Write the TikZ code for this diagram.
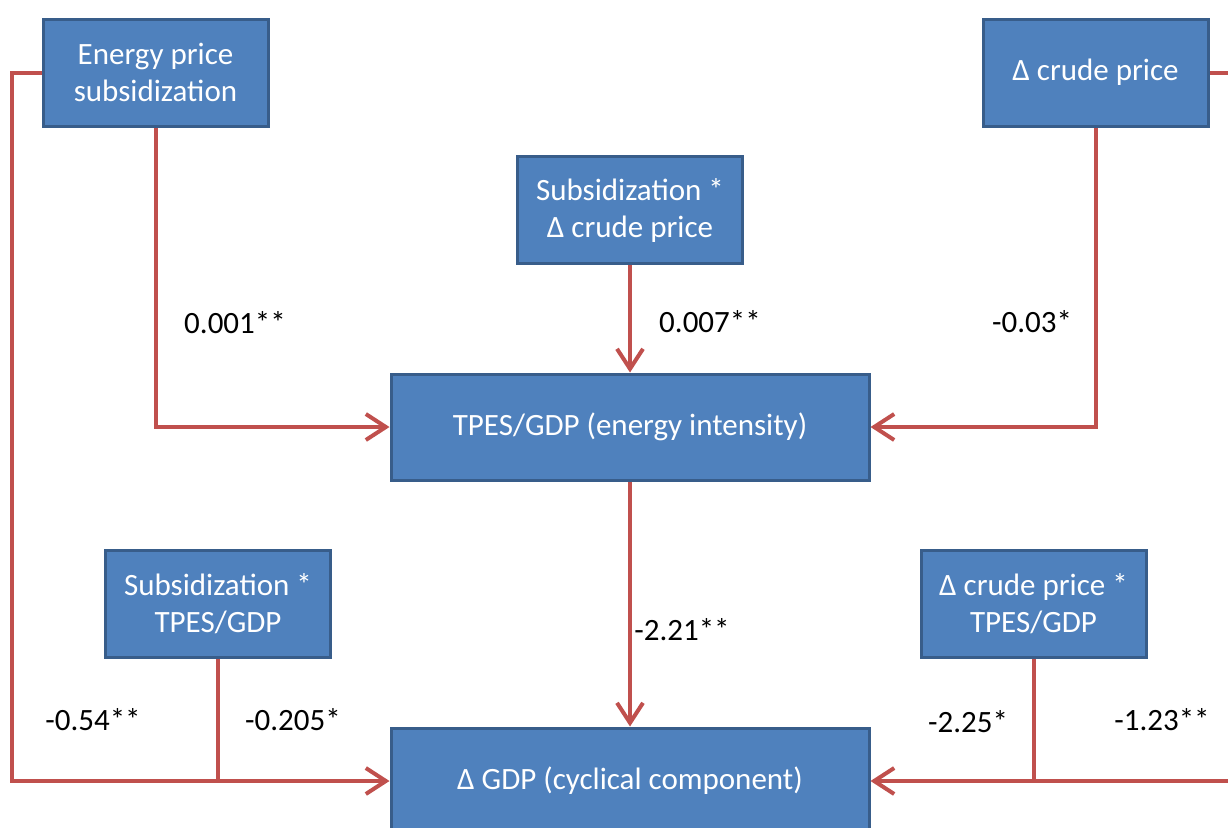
\documentclass[tikz,border=0pt]{standalone}
\usepackage{fontspec}
\setmainfont{Carlito}
\usetikzlibrary{arrows.meta}
\definecolor{boxfill}{HTML}{4F81BD}
\definecolor{boxline}{HTML}{385D8A}
\definecolor{conncol}{HTML}{C0504D}
\begin{document}
\begin{tikzpicture}[x=1pt,y=-1pt,
  box/.style={draw=boxline, line width=3pt, fill=boxfill, text=white, align=center,
    minimum width=225pt, minimum height=107pt, inner sep=0pt,
    font=\fontsize{31}{37}\selectfont},
  widebox/.style={box, minimum width=478pt, minimum height=106pt},
  conn/.style={draw=conncol, line width=4pt, -{Straight Barb[length=20pt,width=26pt]}},
  plain/.style={draw=conncol, line width=4pt},
  lab/.style={font=\fontsize{31}{37}\selectfont, text=black}]
\useasboundingbox (0,0) rectangle (1228,827);
\clip (0,0) rectangle (1228,827);
\node[box] (A) at (155.5,72.5) {Energy price\\subsidization};
\node[box] (B) at (1095.5,72.5) {Δ crude price};
\node[box] (C) at (630,210) {Subsidization *\\Δ crude price};
\node[widebox] (D) at (630,427) {TPES/GDP (energy intensity)};
\node[box] (E) at (218,603.5) {Subsidization *\\TPES/GDP};
\node[box] (F) at (1033.5,603.5) {Δ crude price *\\TPES/GDP};
\node[widebox] (G) at (630,781) {Δ GDP (cyclical component)};
\coordinate (Lc) at (12,72.5);
\coordinate (Rc) at (1240,72.5);
\draw[plain] (E.south) -- (E.south |- G.west);
\draw[plain] (F.south) -- (F.south |- G.east);
\draw[conn] (A.west) -- (Lc) |- (G.west);
\draw[conn] (A.south) |- (D.west);
\draw[conn] (C.south) -- (D.north);
\draw[conn] (B.south) |- (D.east);
\draw[conn] (B.east) -- (Rc) |- (G.east);
\draw[conn] (D.south) -- (G.north);
\node[lab] (l1) at (235,323) {0.001**};
\node[lab] (l2) at (710,322) {0.007**};
\node[lab] (l3) at (1032,322) {-0.03*};
\node[lab] (l4) at (682,630) {-2.21**};
\node[lab] (l5) at (93,720) {-0.54**};
\node[lab] (l6) at (293,720) {-0.205*};
\node[lab] (l7) at (968,722) {-2.25*};
\node[lab] (l8) at (1162,720) {-1.23**};
\end{tikzpicture}
\end{document}
